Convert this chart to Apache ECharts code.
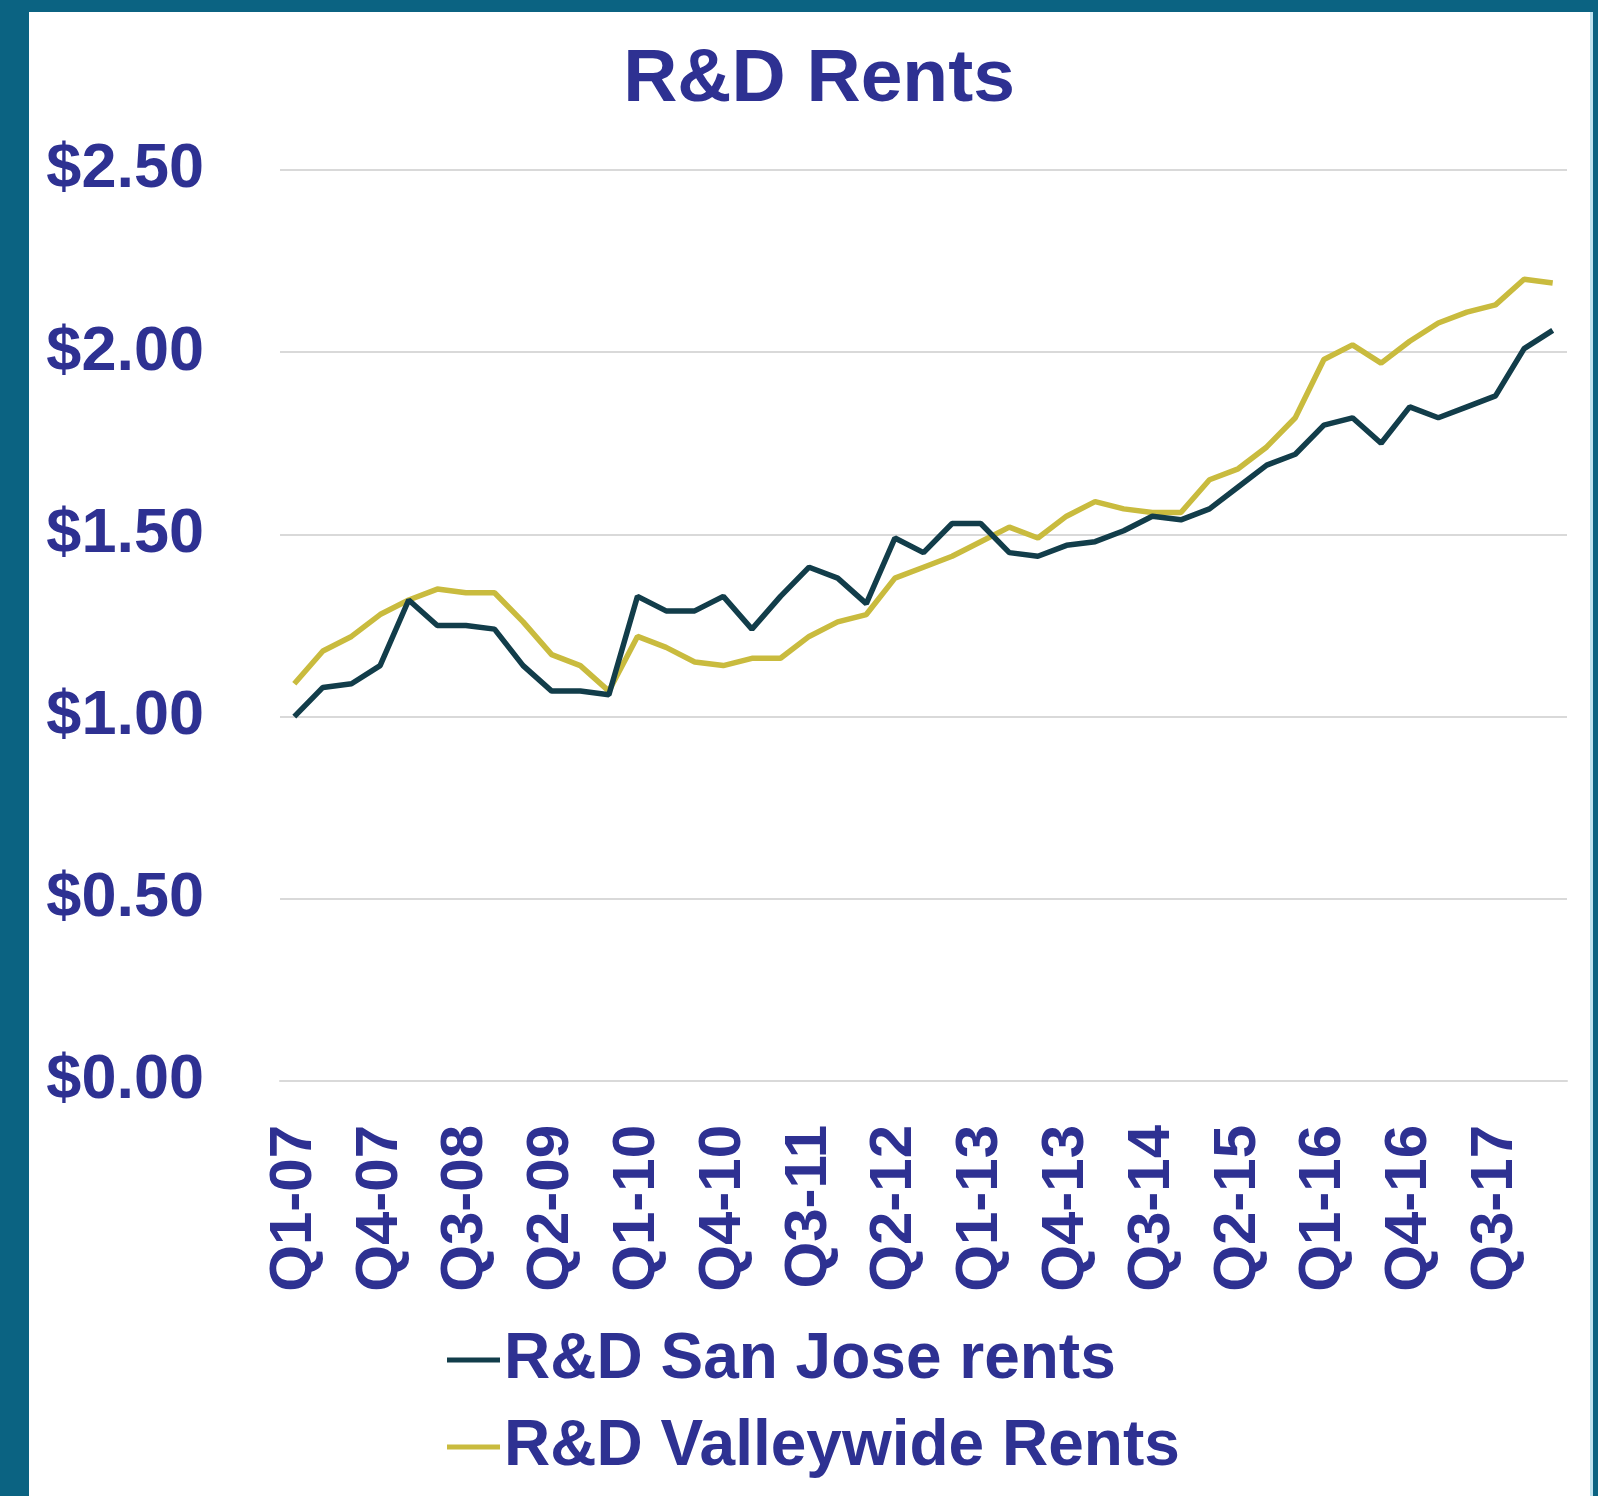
<!DOCTYPE html>
<html>
<head>
<meta charset="utf-8">
<title>R&amp;D Rents</title>
<script src="https://cdn.jsdelivr.net/npm/echarts@6/dist/echarts.min.js"></script>
<style>
  html, body {
    margin: 0;
    padding: 0;
    width: 1598px;
    height: 1496px;
    background: #0B6382;
    overflow: hidden;
  }
  .panel {
    position: absolute;
    left: 29px;
    top: 12px;
    width: 1561px;
    height: 1484px;
    background: #ffffff;
    border-right: 3px solid #bfe3f0;
  }
  #chart {
    position: absolute;
    left: 0;
    top: 0;
    width: 1598px;
    height: 1496px;
  }
</style>
</head>
<body>
<div class="panel"></div>
<div id="chart"></div>
<script>
// quarters Q1-07 .. Q1-18
const quarters = [
  'Q1-07', 'Q2-07', 'Q3-07', 'Q4-07',
  'Q1-08', 'Q2-08', 'Q3-08', 'Q4-08',
  'Q1-09', 'Q2-09', 'Q3-09', 'Q4-09',
  'Q1-10', 'Q2-10', 'Q3-10', 'Q4-10',
  'Q1-11', 'Q2-11', 'Q3-11', 'Q4-11',
  'Q1-12', 'Q2-12', 'Q3-12', 'Q4-12',
  'Q1-13', 'Q2-13', 'Q3-13', 'Q4-13',
  'Q1-14', 'Q2-14', 'Q3-14', 'Q4-14',
  'Q1-15', 'Q2-15', 'Q3-15', 'Q4-15',
  'Q1-16', 'Q2-16', 'Q3-16', 'Q4-16',
  'Q1-17', 'Q2-17', 'Q3-17', 'Q4-17',
  'Q1-18',
];

const sanJoseRents = [
  1.00, 1.08, 1.09, 1.14, 1.32, 1.25, 1.25, 1.24,
  1.14, 1.07, 1.07, 1.06, 1.33, 1.29, 1.29, 1.33,
  1.24, 1.33, 1.41, 1.38, 1.31, 1.49, 1.45, 1.53,
  1.53, 1.45, 1.44, 1.47, 1.48, 1.51, 1.55, 1.54,
  1.57, 1.63, 1.69, 1.72, 1.80, 1.82, 1.75, 1.85,
  1.82, 1.85, 1.88, 2.01, 2.06,
];

const valleywideRents = [
  1.09, 1.18, 1.22, 1.28, 1.32, 1.35, 1.34, 1.34,
  1.26, 1.17, 1.14, 1.07, 1.22, 1.19, 1.15, 1.14,
  1.16, 1.16, 1.22, 1.26, 1.28, 1.38, 1.41, 1.44,
  1.48, 1.52, 1.49, 1.55, 1.59, 1.57, 1.56, 1.56,
  1.65, 1.68, 1.74, 1.82, 1.98, 2.02, 1.97, 2.03,
  2.08, 2.11, 2.13, 2.20, 2.19,
];

const textColor = '#2E3192';
const fontFamily = '"Liberation Sans", Arial, sans-serif';

const chart = echarts.init(document.getElementById('chart'), null, { renderer: 'canvas' });

chart.setOption({
  animation: false,
  textStyle: {
    fontFamily,
    color: textColor,
  },
  title: {
    text: 'R&D Rents',
    left: 814,
    top: 38,
    textAlign: 'center',
    textStyle: {
      color: textColor,
      fontSize: 75,
      fontWeight: 'bold',
      fontFamily,
    },
  },
  grid: {
    left: 280,
    right: 31,
    top: 170,
    bottom: 415,
    containLabel: false,
  },
  legend: {
    orient: 'vertical',
    left: 447,
    top: 1328,
    icon: 'rect',
    itemWidth: 53,
    itemHeight: 5,
    itemGap: 23,
    padding: 0,
    textStyle: {
      color: textColor,
      fontSize: 64,
      fontWeight: 'bold',
      lineHeight: 64,
      fontFamily,
      padding: [0, 0, 0, -1],
    },
    data: ['R&D San Jose rents', 'R&D Valleywide Rents'],
  },
  xAxis: {
    type: 'category',
    data: quarters,
    boundaryGap: true,
    axisLine: {
      lineStyle: { color: '#D9D9D9', width: 2 },
    },
    axisTick: { show: false },
    axisLabel: {
      interval: 2,
      rotate: 90,
      margin: 44,
      color: textColor,
      fontSize: 60,
      fontWeight: 'bold',
      fontFamily,
    },
  },
  yAxis: {
    type: 'value',
    min: 0,
    max: 2.5,
    interval: 0.5,
    axisLine: { show: false },
    axisTick: { show: false },
    splitLine: {
      lineStyle: { color: '#D9D9D9', width: 2 },
    },
    axisLabel: {
      margin: 76,
      color: textColor,
      fontSize: 63,
      fontWeight: 'bold',
      fontFamily,
      formatter: (val) => '$' + val.toFixed(2),
    },
  },
  series: [
    {
      name: 'R&D San Jose rents',
      type: 'line',
      data: sanJoseRents,
      symbol: 'none',
      z: 3,
      lineStyle: { color: '#123D4A', width: 5.5 },
      itemStyle: { color: '#123D4A' },
    },
    {
      name: 'R&D Valleywide Rents',
      type: 'line',
      data: valleywideRents,
      symbol: 'none',
      z: 2,
      lineStyle: { color: '#C9BB3E', width: 5.5 },
      itemStyle: { color: '#C9BB3E' },
    },
  ],
});
</script>
</body>
</html>
